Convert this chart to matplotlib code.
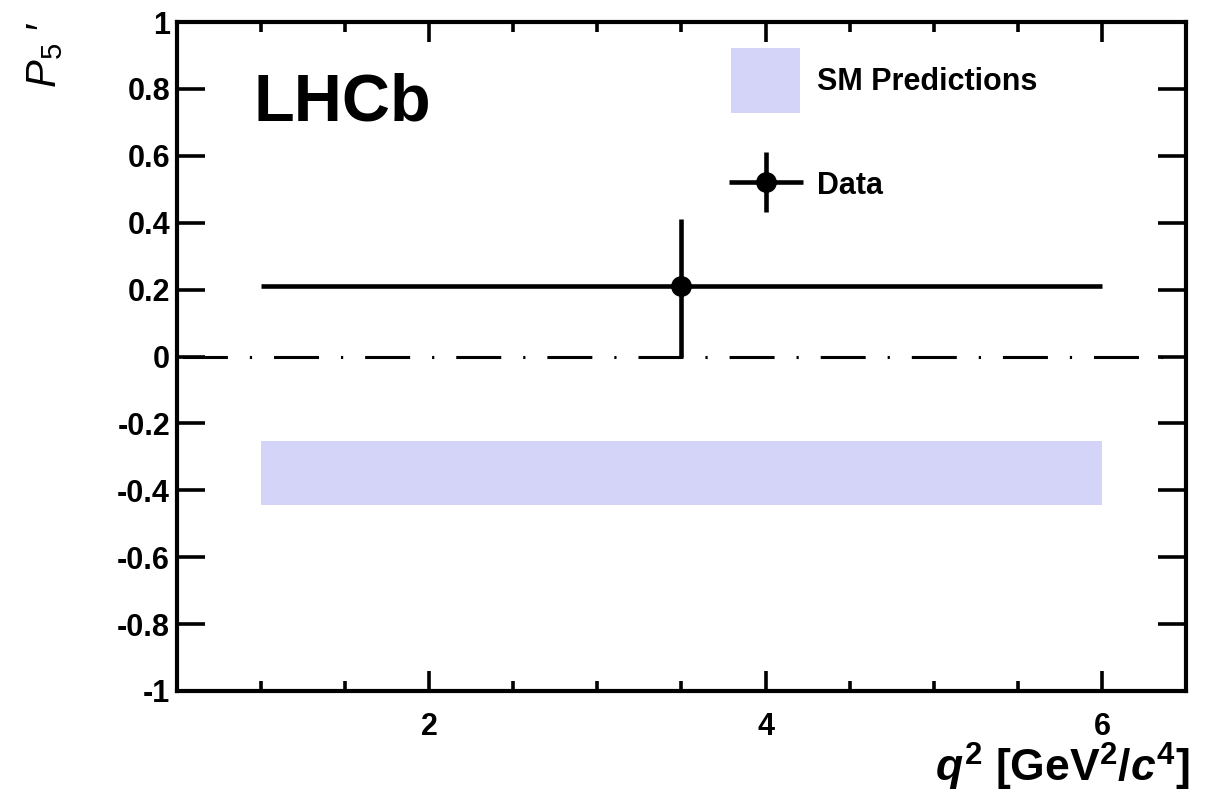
import matplotlib
matplotlib.use("Agg")
import matplotlib.pyplot as plt
from matplotlib.patches import Patch
from matplotlib.legend_handler import HandlerErrorbar
from matplotlib.ticker import MultipleLocator

# ---- data ----
q2_center = [3.5]
q2_halfwidth = [2.5]
p5_value = [0.21]
p5_err_low = [0.21]
p5_err_high = [0.20]

sm_q2_low = [1.0]
sm_q2_high = [6.0]
sm_p5_low = [-0.443]
sm_p5_high = [-0.254]

y_ticks = [-1.0, -0.8, -0.6, -0.4, -0.2, 0.0, 0.2, 0.4, 0.6, 0.8, 1.0]
y_tick_labels = ["-1", "-0.8", "-0.6", "-0.4", "-0.2", "0", "0.2", "0.4", "0.6", "0.8", "1"]
x_ticks = [2, 4, 6]
x_tick_labels = ["2", "4", "6"]

plt.rcParams["font.family"] = ["Liberation Sans", "DejaVu Sans"]
plt.rcParams["font.weight"] = "bold"
plt.rcParams["axes.unicode_minus"] = False
plt.rcParams["mathtext.fontset"] = "custom"
plt.rcParams["mathtext.rm"] = "Liberation Sans:bold"
plt.rcParams["mathtext.bf"] = "Liberation Sans:bold"
plt.rcParams["mathtext.it"] = "Liberation Sans:bold:italic"
plt.rcParams["mathtext.sf"] = "Liberation Sans:italic:regular"
plt.rcParams["mathtext.tt"] = "Liberation Sans:regular"
plt.rcParams["lines.scale_dashes"] = False


class ShiftedErrorbarHandler(HandlerErrorbar):
    def __init__(self, extra_descent=0.0, **kw):
        super().__init__(**kw)
        self.extra_descent = extra_descent

    def create_artists(self, legend, orig_handle, xdescent, ydescent, width,
                       height, fontsize, trans):
        return super().create_artists(legend, orig_handle, xdescent,
                                      ydescent + self.extra_descent, width,
                                      height, fontsize, trans)


W, H = 1208, 802
fig = plt.figure(figsize=(W / 100, H / 100), dpi=100)
ax = fig.add_axes([177 / W, 1 - 691 / H, (1186 - 177) / W, (691 - 22) / H])

band_color = "#d4d4f8"
for lo_x, hi_x, lo_y, hi_y in zip(sm_q2_low, sm_q2_high, sm_p5_low, sm_p5_high):
    ax.fill_between([lo_x, hi_x], [lo_y, lo_y], [hi_y, hi_y], color=band_color,
                    linewidth=0, zorder=1)

ax.axhline(0, color="black", lw=2.2, ls=(61.7, (32.4, 15.8, 1.6, 15.8)), zorder=2)

eb = ax.errorbar(q2_center, p5_value, xerr=q2_halfwidth,
                 yerr=[p5_err_low, p5_err_high], fmt="o", color="black",
                 markersize=14, elinewidth=3.3, capsize=0, zorder=3)

ax.set_xlim(0.5, 6.5)
ax.set_ylim(-1, 1)
ax.set_xticks(x_ticks, x_tick_labels)
ax.set_yticks(y_ticks, y_tick_labels)
ax.xaxis.set_minor_locator(MultipleLocator(0.5))

for s in ax.spines.values():
    s.set_linewidth(3)

ax.tick_params(axis="both", which="both", direction="in", top=True, right=True,
               width=2.6, labelsize=22, colors="black")
ax.tick_params(axis="y", which="major", length=20, pad=5)
ax.tick_params(axis="x", which="major", length=14.4, pad=15)
ax.tick_params(axis="x", which="minor", length=7.2)
for lab in ax.get_xticklabels() + ax.get_yticklabels():
    lab.set_fontweight("bold")

ax.text(0.0763, 0.853, "LHCb", transform=ax.transAxes, fontsize=48,
        fontweight="bold", ha="left", va="baseline")

band_handle = Patch(facecolor=band_color, edgecolor="none")
leg = ax.legend([band_handle, eb], ["SM Predictions", "Data"],
                loc="upper left", bbox_to_anchor=(731 / W, 1 - 48 / H),
                bbox_transform=fig.transFigure, frameon=False,
                borderpad=0, borderaxespad=0, fontsize=22,
                handlelength=2.26, handleheight=2.9, labelspacing=1.3,
                handletextpad=0.55,
                handler_map={type(eb): ShiftedErrorbarHandler(
                    extra_descent=12.2, xerr_size=1.21, yerr_size=0.98)})
for t in leg.get_texts():
    t.set_fontweight("bold")

fig.text(1190 / W, 1 - 782 / H, r"$q^{2}$ [GeV$^{2}$/$c^{4}$]", fontsize=32,
         fontweight="bold", ha="right", va="baseline")
fig.text(45 / W, 1 - 22 / H, "$\\mathsf{P}_{\\mathtt{5}}$ \u2032", fontsize=30,
         rotation=90, ha="center", va="top", fontweight="normal")

fig.savefig("out.png", dpi=100)
